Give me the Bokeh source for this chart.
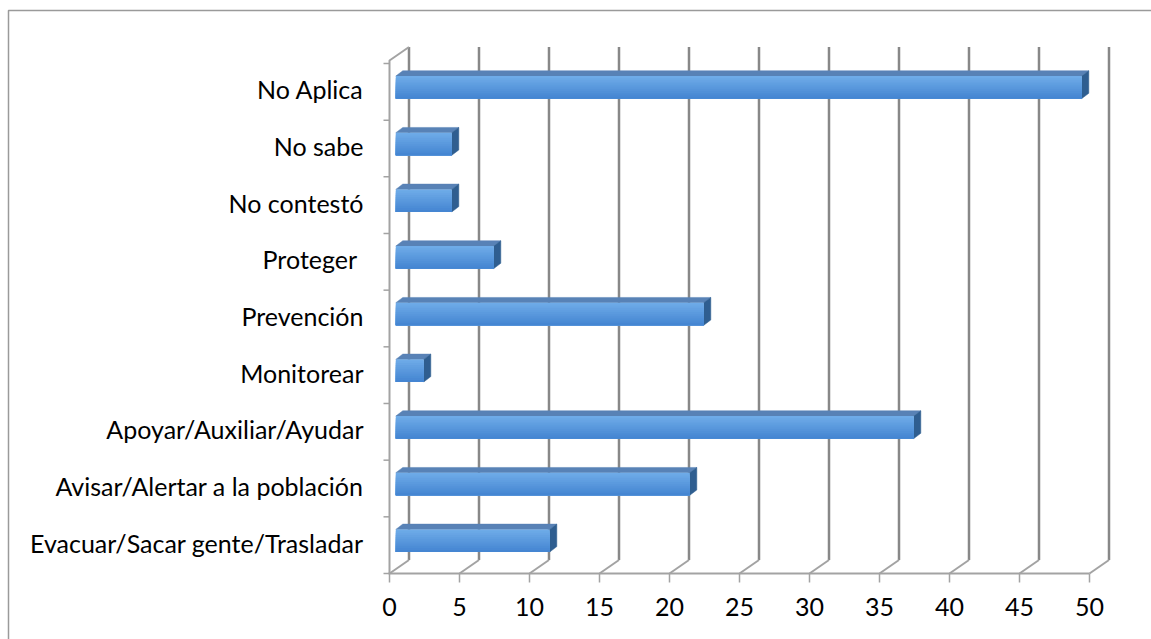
from bokeh.plotting import figure
from bokeh.embed import file_html
from bokeh.resources import INLINE
from bokeh.core.properties import value

# ---------------- data ----------------
categories = [
    "Evacuar/Sacar gente/Trasladar",
    "Avisar/Alertar a la población",
    "Apoyar/Auxiliar/Ayudar",
    "Monitorear",
    "Prevención",
    "Proteger ",
    "No contestó",
    "No sabe",
    "No Aplica",
]
counts = [11, 21, 37, 2, 22, 7, 4, 4, 49]
x_ticks = [0, 5, 10, 15, 20, 25, 30, 35, 40, 45, 50]
x_tick_labels = [str(t) for t in x_ticks]

# ---------------- geometry (pixels) ----------------
W, H = 1151, 639
X0, Y0 = 389.0, 573.0        # pixel of value 0 on the front floor line
PX = 14.0                    # pixels per unit of value
PY = 56.67                   # pixels per category band

def fx(px):
    return px / PX

def fy(px):
    return px / PY

DX, DY = fx(19.5), fy(13.5)          # depth of the 3D box
BAR_X, BAR_Y = fx(6.3), fy(4.5)      # bar placement inside the depth
BAR_DX, BAR_DY = fx(7.0), fy(5.3)    # bar depth
BAR_H = fy(22.5)
YTOP = fy(Y0 - 60.0)                 # top of the front-left wall
N = len(categories)

p = figure(width=W, height=H,
           x_range=(-X0 / PX, (W - X0) / PX),
           y_range=(-(H - Y0) / PY, Y0 / PY),
           output_backend="svg", toolbar_location=None,
           x_axis_location=None, y_axis_location=None,
           min_border=0)
p.grid.visible = False
p.outline_line_color = None
p.background_fill_color = "white"
p.border_fill_color = "white"

# chart border (left & top visible)
p.line(x=[fx(8 - X0), fx(8 - X0), (W + 10 - X0) / PX],
       y=[-(H + 10 - Y0) / PY, fy(Y0 - 10), fy(Y0 - 10)],
       line_color="#9a9a9a", line_width=1.5)

# back wall gridlines
p.multi_line(xs=[[t + DX, t + DX] for t in x_ticks],
             ys=[[DY, YTOP + DY] for t in x_ticks],
             line_color="#888888", line_width=2.5)
# floor diagonals
p.multi_line(xs=[[t, t + DX] for t in x_ticks],
             ys=[[0, DY] for t in x_ticks],
             line_color="#a3a3a3", line_width=2)
# front floor line
p.line(x=[x_ticks[0] - fx(1), x_ticks[-1]], y=[0, 0],
       line_color="#a3a3a3", line_width=2)
# bottom ticks
p.multi_line(xs=[[t, t] for t in x_ticks],
             ys=[[0, -fy(9)] for t in x_ticks],
             line_color="#a3a3a3", line_width=1.5)
# left wall
p.line(x=[0, 0, DX], y=[0, YTOP, YTOP + DY],
       line_color="#a3a3a3", line_width=2)
# category ticks
p.multi_line(xs=[[-fx(6), 0] for k in range(N + 1)],
             ys=[[k, k] for k in range(N + 1)],
             line_color="#a3a3a3", line_width=1.5)

# ---------------- bars ----------------
def lerp(c1, c2, t):
    a = [int(c1[i:i + 2], 16) for i in (1, 3, 5)]
    b = [int(c2[i:i + 2], 16) for i in (1, 3, 5)]
    return "#" + "".join("%02x" % round(a[k] + (b[k] - a[k]) * t) for k in range(3))

STRIPS = 12
ql, qr, qb, qt, qc = [], [], [], [], []
top_xs, top_ys, side_xs, side_ys = [], [], [], []
for i, v in enumerate(counts):
    left = BAR_X
    right = BAR_X + v
    bottom = i + 0.5 + BAR_Y - BAR_H / 2
    top = bottom + BAR_H
    for s in range(STRIPS):
        # each strip reaches down to the bar bottom -> no seams
        b1 = top - s * BAR_H / STRIPS
        ql.append(left); qr.append(right); qb.append(bottom); qt.append(b1)
        qc.append(lerp("#6eabe8", "#4586d2", s / (STRIPS - 1)))
    top_xs.append([left, right, right + BAR_DX, left + BAR_DX])
    top_ys.append([top, top, top + BAR_DY, top + BAR_DY])
    side_xs.append([right, right, right + BAR_DX, right + BAR_DX])
    side_ys.append([bottom, top, top + BAR_DY, bottom + BAR_DY])

p.patches(xs=top_xs, ys=top_ys, fill_color="#5882b6", line_color="#5882b6", line_width=0.5)
p.patches(xs=side_xs, ys=side_ys, fill_color="#2f5e90", line_color="#2f5e90", line_width=0.5)
p.quad(left=ql, right=qr, bottom=qb, top=qt, fill_color=qc, line_color=None)

# ---------------- texts ----------------
FONT = value("Lato")
p.text(x=[fx(363 - X0)] * N,
       y=[i + 0.5 + fy(2.5) for i in range(N)],
       text=categories, text_align="right", text_baseline="middle",
       text_font=FONT, text_font_size="25px", text_color="#000000")
p.text(x=x_ticks, y=[-fy(606.5 - Y0)] * len(x_ticks),
       text=x_tick_labels, text_align="center", text_baseline="middle",
       text_font=FONT, text_font_size="25px", text_color="#000000")

open("out.html", "w").write(file_html(p, INLINE))
